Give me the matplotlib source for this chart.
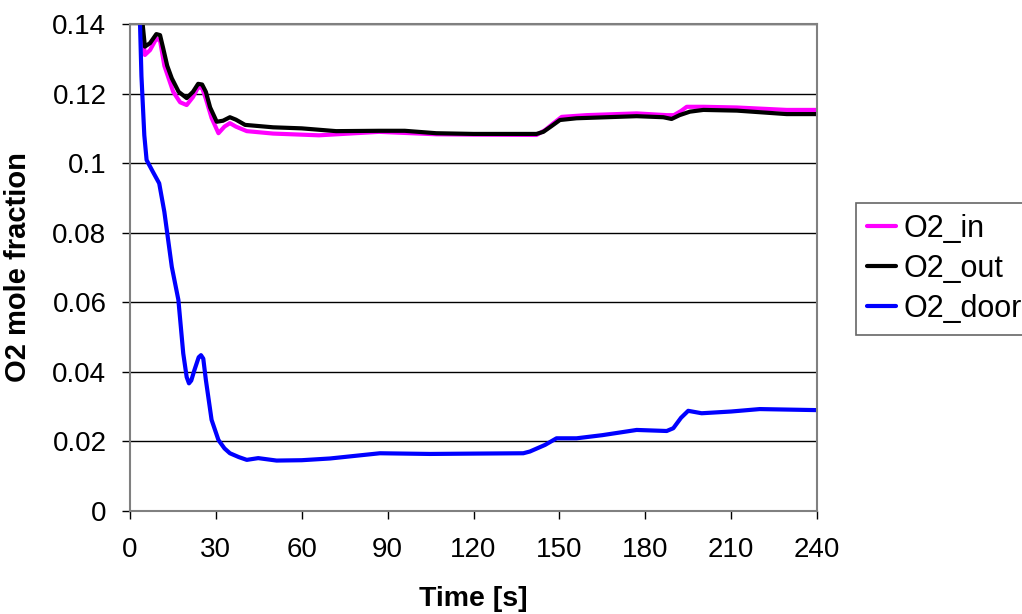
import matplotlib
matplotlib.use("Agg")
import matplotlib.pyplot as plt
from matplotlib.ticker import FuncFormatter

plt.rcParams['font.family'] = ['Liberation Sans', 'DejaVu Sans']

# --- data ---
t_in = [3, 4.1, 5.2, 7, 9.2, 10.5, 12, 15.1, 17.5, 19.8, 22, 23.8, 25.2, 26.5, 28.5, 30.9,
        33, 34.9, 37, 40.8, 50, 66, 87, 107, 120, 142, 145, 148, 150.8, 159.5, 177, 187.5,
        190, 192.5, 194.5, 200.3, 212, 229.4, 240]
o2_in = [0.155, 0.14, 0.1311, 0.1325, 0.1358, 0.1352, 0.128, 0.1205, 0.1175, 0.1167, 0.119,
         0.1218, 0.1216, 0.1185, 0.113, 0.1086, 0.1105, 0.1115, 0.1105, 0.1092, 0.1085,
         0.108, 0.109, 0.1083, 0.1082, 0.1081, 0.1095, 0.1115, 0.1133, 0.1138, 0.1143,
         0.1138, 0.1138, 0.115, 0.1162, 0.1162, 0.116, 0.1153, 0.1153]

t_out = [3, 4.1, 5.2, 7, 9.2, 10.5, 11.6, 13, 14.6, 17, 19.8, 22, 23.8, 25.2, 26.5, 28,
         30.3, 32.5, 34.9, 37, 40.2, 50, 60, 72, 87, 96, 107, 120, 142, 144.4, 147, 150.2,
         156, 177, 186.3, 189.2, 192, 195.6, 200.3, 212, 229.4, 240]
o2_out = [0.155, 0.1426, 0.1335, 0.1345, 0.1371, 0.1368, 0.133, 0.128, 0.1244, 0.1205,
          0.1187, 0.1205, 0.1228, 0.1226, 0.1205, 0.116, 0.1119, 0.1122, 0.1132, 0.1125,
          0.111, 0.1103, 0.11, 0.1092, 0.1093, 0.1093, 0.1086, 0.1084, 0.1084, 0.109,
          0.1105, 0.1124, 0.1129, 0.1135, 0.1132, 0.1127, 0.1138, 0.1148, 0.1153, 0.1151,
          0.1141, 0.1141]

t_door = [3, 4, 5, 5.8, 8, 10.2, 12, 14.6, 16.9, 18.6, 19.8, 20.6, 21.4, 22.5, 24, 24.8,
          25.6, 26.5, 28.5, 30.9, 33, 34.9, 38, 40.8, 44.8, 51.2, 60, 69.9, 87.3, 104.8,
          120, 137.4, 139.7, 145, 149, 156, 165, 177, 187.5, 189.8, 192.5, 195, 199.7,
          210, 220, 240]
o2_door = [0.155, 0.125, 0.108, 0.1009, 0.0975, 0.0942, 0.086, 0.0702, 0.0607, 0.0453,
           0.0385, 0.0367, 0.0375, 0.0405, 0.0442, 0.0448, 0.0438, 0.0377, 0.0262, 0.0204,
           0.018, 0.0166, 0.0155, 0.0147, 0.0152, 0.0145, 0.0146, 0.0151, 0.0166, 0.0164,
           0.0165, 0.0166, 0.0171, 0.019, 0.0209, 0.0209, 0.0218, 0.0233, 0.023, 0.0238,
           0.0268, 0.0288, 0.0281, 0.0286, 0.0293, 0.029]

series_labels = ["O2_in", "O2_out", "O2_door"]
series_colors = ["#FF00FF", "#000000", "#0000FF"]

x_ticks = [0, 30, 60, 90, 120, 150, 180, 210, 240]
y_ticks = [0, 0.02, 0.04, 0.06, 0.08, 0.1, 0.12, 0.14]

# --- figure ---
fig = plt.figure(figsize=(10.22, 6.14), dpi=100)
ax = fig.add_axes([130 / 1022, 1 - 511 / 614, 687 / 1022, 487 / 614])

for tt, yy, lab, col in zip([t_in, t_out, t_door], [o2_in, o2_out, o2_door],
                            series_labels, series_colors):
    ax.plot(tt, yy, color=col, lw=3, label=lab, solid_joinstyle='round',
            solid_capstyle='round')

ax.set_xlim(0, 240)
ax.set_ylim(0, 0.14)
ax.set_xticks(x_ticks)
ax.set_yticks(y_ticks)
ax.yaxis.set_major_formatter(FuncFormatter(lambda v, p: f"{v:g}"))

ax.grid(axis='y', color='black', lw=1)
ax.set_axisbelow(True)
for s in ax.spines.values():
    s.set_color('#808080')
    s.set_linewidth(1.5)

ax.tick_params(axis='both', direction='out', length=6, width=1, color='black',
               labelsize=20)
ax.tick_params(axis='x', pad=13)
ax.tick_params(axis='y', pad=11)

ax.set_xlabel("Time [s]", fontsize=20.5, fontweight='bold')
ax.set_ylabel("O2 mole fraction", fontsize=21, fontweight='bold')
ax.xaxis.set_label_coords(0.5, -0.155)
ax.yaxis.set_label_coords(-0.142, 0.5)

leg = fig.legend(loc='upper left', bbox_to_anchor=(856 / 1022, 1 - 203 / 614),
                 fontsize=22, frameon=True, fancybox=False, edgecolor='#404040',
                 handlelength=0.95, handletextpad=0.25, labelspacing=0.33,
                 borderpad=0.35, borderaxespad=0)
leg.get_frame().set_linewidth(1.2)

fig.savefig("out.png", dpi=100)
